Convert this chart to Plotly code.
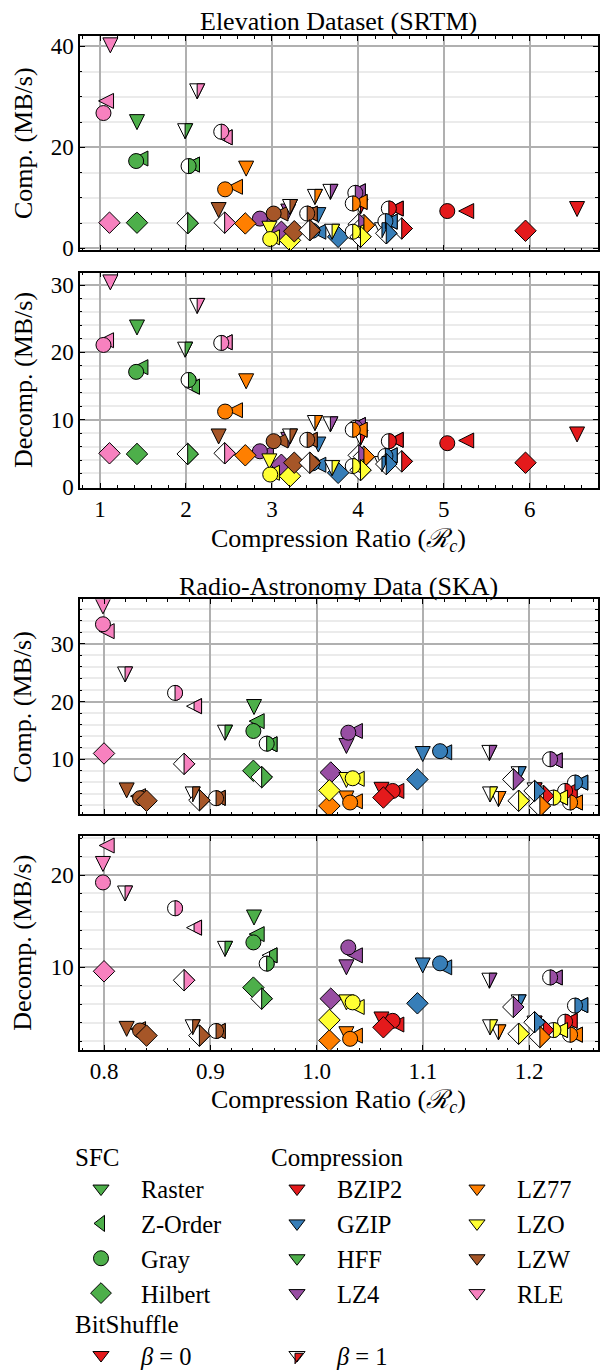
import plotly.graph_objects as go

# ---------------- categories ----------------
COMPRESSIONS = ["BZIP2", "GZIP", "HFF", "LZ4", "LZ77", "LZO", "LZW", "RLE"]
COLORS = ["#e41a1c", "#377eb8", "#4daf4a", "#984ea3", "#ff7f00", "#ffff33", "#a65628", "#f781bf"]
SFCS = ["Raster", "Z-Order", "Gray", "Hilbert"]

# Values: 8 rows (compression) x 4 columns (Raster, Z-Order, Gray, Hilbert)
# ---------------- Elevation dataset (SRTM) ----------------
srtm_ratio_b0 = [6.55, 5.26, 5.04, 5.95,
                 3.54, 3.54, 3.47, 3.77,
                 1.43, 1.47, 1.42, 1.43,
                 3.19, 2.93, 2.86, 3.11,
                 2.70, 2.57, 2.455, 2.69,
                 2.97, 3.00, 2.98, 3.21,
                 2.38, 3.10, 3.02, 3.26,
                 1.12, 1.07, 1.04, 1.11]
srtm_comp_b0 = [7.8, 7.4, 7.4, 3.5,
                6.6, 3.3, 3.5, 2.3,
                25.0, 17.8, 17.3, 5.1,
                7.3, 5.5, 5.9, 3.3,
                15.8, 12.2, 11.7, 4.95,
                3.9, 2.2, 1.86, 1.6,
                7.6, 6.9, 6.9, 3.4,
                40.2, 29.2, 26.8, 5.1]
srtm_decomp_b0 = [7.8, 6.9, 6.5, 3.6,
                  6.3, 3.3, 3.5, 2.1,
                  23.7, 17.8, 17.1, 4.9,
                  7.0, 5.0, 5.3, 3.3,
                  15.7, 11.4, 11.2, 4.7,
                  3.8, 2.1, 1.84, 1.6,
                  7.5, 6.9, 6.8, 3.6,
                  30.4, 21.8, 21.1, 5.0]
srtm_ratio_b1 = [4.03, 4.44, 4.36, 4.51,
                 4.28, 4.37, 4.32, 4.33,
                 1.99, 2.07, 2.03, 2.02,
                 3.68, 4.00, 3.97, 4.01,
                 3.50, 4.02, 3.94, 4.07,
                 3.70, 3.98, 3.94, 4.03,
                 3.21, 3.44, 3.41, 3.44,
                 2.13, 2.45, 2.41, 2.45]
srtm_comp_b1 = [8.3, 7.9, 7.9, 3.95,
                3.6, 5.3, 5.4, 3.0,
                23.2, 16.6, 16.3, 5.0,
                11.2, 11.3, 11.0, 4.8,
                10.2, 9.2, 8.9, 4.6,
                3.3, 3.2, 3.3, 2.3,
                8.2, 6.9, 6.9, 3.6,
                31.1, 22.0, 23.1, 5.1]
srtm_decomp_b1 = [7.3, 7.0, 6.8, 3.8,
                  3.4, 4.7, 4.6, 3.4,
                  20.4, 14.9, 15.9, 4.9,
                  9.3, 9.2, 8.8, 4.7,
                  9.5, 8.5, 8.5, 4.5,
                  2.8, 3.0, 3.1, 2.5,
                  7.5, 7.0, 7.0, 3.6,
                  26.9, 21.5, 21.4, 5.0]

# ---------------- Radio-astronomy data (SKA) ----------------
ska_ratio_b0 = [1.061, 1.075, 1.0715, 1.0628,
                1.0998, 1.120, 1.1161, 1.0948,
                0.9411, 0.9436, 0.9405, 0.9405,
                1.028, 1.036, 1.0298, 1.0133,
                1.028, 1.036, 1.0315, 1.012,
                1.028, 1.0377, 1.0339, 1.012,
                0.8213, 0.832, 0.8339, 0.840,
                0.799, 0.8025, 0.799, 0.800]
ska_comp_b0 = [4.7, 4.5, 4.5, 3.36,
               10.9, 11.2, 11.4, 6.5,
               19.05, 16.6, 14.9, 8.0,
               12.3, 14.9, 14.6, 7.7,
               3.2, 2.7, 2.5, 1.9,
               6.4, 6.6, 6.7, 4.6,
               4.6, 3.6, 3.25, 2.8,
               36.5, 32.2, 33.4, 11.0]
ska_decomp_b0 = [4.35, 3.8, 4.2, 3.5,
                 10.2, 10.0, 10.43, 6.1,
                 15.4, 13.6, 12.7, 7.8,
                 10.0, 11.3, 12.16, 6.6,
                 2.75, 2.6, 2.25, 2.07,
                 6.2, 5.7, 6.2, 4.3,
                 3.33, 3.3, 3.15, 2.6,
                 21.2, 23.2, 19.2, 9.57]
ska_ratio_b1 = [1.205, 1.238, 1.2337, 1.2133,
                1.190, 1.248, 1.243, 1.205,
                0.9138, 0.9557, 0.953, 0.9483,
                1.1625, 1.224, 1.2196, 1.185,
                1.171, 1.243, 1.2384, 1.210,
                1.1631, 1.229, 1.2227, 1.190,
                0.8834, 0.907, 0.9054, 0.8897,
                0.8198, 0.8847, 0.8668, 0.8753]
ska_comp_b1 = [4.6, 4.5, 4.5, 3.65,
               7.4, 5.95, 5.95, 4.5,
               14.6, 12.6, 12.7, 6.9,
               11.1, 9.8, 10.0, 6.5,
               3.1, 2.5, 2.5, 1.9,
               3.9, 3.35, 3.35, 2.8,
               3.9, 3.3, 3.25, 2.9,
               24.7, 19.2, 21.5, 9.2]
ska_decomp_b1 = [3.9, 4.2, 4.1, 3.2,
                 6.2, 5.9, 5.85, 4.05,
                 12.0, 11.3, 10.4, 6.6,
                 8.55, 8.9, 8.9, 5.7,
                 2.95, 2.7, 2.7, 2.45,
                 3.5, 3.2, 3.2, 2.8,
                 3.5, 3.1, 3.1, 2.6,
                 18.0, 14.3, 16.4, 8.6]

# ---------------- styling ----------------
FONT = "Liberation Serif"
REF_H = 1370          # layout is designed on a 600 x 1370 grid
VS = 1.0088           # vertical stretch to compensate the page capture
W, H = 600, round(REF_H * VS)
TXT = 26
TICKFS = 23

SYM = ["arrow-down", "arrow-down", "circle", "diamond"]
ANG = [0, 90, 0, 0]
SIZE = [15, 15, 15, 16.5]
STANDOFF = [7.5, 7.5, 0, 0]
LEG_SYM = ["triangle-down", "triangle-left", "circle", "diamond"]
LEG_SIZE = [14, 14, 15, 16]


def half_path(si):
    """Right half of the marker of SFC index si, in pixels (y up)."""
    h = SIZE[si] / 2.0
    if si == 0:
        return f"M0,{h} L{h},{h} L0,{-h} Z"
    if si == 1:
        return f"M0,{h/2} L{h},{h} L{h},{-h} L0,{-h/2} Z"
    if si == 2:
        k = 0.5523 * h
        return (f"M0,{h} C{k:.3f},{h} {h},{k:.3f} {h},0 "
                f"C{h},{-k:.3f} {k:.3f},{-h} 0,{-h} Z")
    d = 0.65 * SIZE[si]
    return f"M0,{d:.3f} L{d:.3f},0 L0,{-d:.3f} Z"


def legend_half_tri(s):
    r = s / 2.0
    rt = r * 2 / 3 ** 0.5
    return f"M0,{r/2:.3f} L{rt:.3f},{r/2:.3f} L0,{-r:.3f} Z"


def fy(p):
    """reference pixel row -> figure pixel row"""
    return p * VS


def py(p):
    """reference pixel row -> paper fraction"""
    return 1 - fy(p) / H


fig = go.Figure()
shapes = []

panels = [
    (1, srtm_ratio_b0, srtm_comp_b0, srtm_ratio_b1, srtm_comp_b1),
    (2, srtm_ratio_b0, srtm_decomp_b0, srtm_ratio_b1, srtm_decomp_b1),
    (3, ska_ratio_b0, ska_comp_b0, ska_ratio_b1, ska_comp_b1),
    (4, ska_ratio_b0, ska_decomp_b0, ska_ratio_b1, ska_decomp_b1),
]

for n, xr0, yv0, xr1, yv1 in panels:
    xa = "x" if n == 1 else f"x{n}"
    ya = "y" if n == 1 else f"y{n}"
    for beta, xs_all, ys_all in ((0, xr0, yv0), (1, xr1, yv1)):
        for ci, comp in enumerate(COMPRESSIONS):
            xs = xs_all[ci * 4:(ci + 1) * 4]
            ys = ys_all[ci * 4:(ci + 1) * 4]
            fig.add_trace(go.Scatter(
                x=xs, y=ys, mode="markers", xaxis=xa, yaxis=ya,
                showlegend=False, hoverinfo="skip",
                marker=dict(symbol=SYM, angle=ANG, standoff=STANDOFF, size=SIZE,
                            color=COLORS[ci] if beta == 0 else "white",
                            line=dict(color="black", width=1), opacity=1),
            ))
            if beta == 1:
                for si in range(4):
                    shapes.append(dict(
                        type="path", xref=xa, yref=ya,
                        xsizemode="pixel", ysizemode="pixel",
                        xanchor=xs[si], yanchor=ys[si], path=half_path(si),
                        fillcolor=COLORS[ci], line=dict(color="black", width=1),
                        layer="above"))

# ---------------- legends ----------------
LEGFS = 24.5
ITEMW = 70
ITEM_H = 1.3 * LEGFS + 3
ROW = 33.7 * VS
GAP = max(ROW - ITEM_H, 0)


def leg(sym_cx, row1_cy):
    left = sym_cx - ((ITEMW + 10) / 2.0 - 2)
    top = fy(row1_cy) - 2 - 5 - ITEM_H / 2.0
    return dict(x=left / W, y=1 - top / H, xanchor="left", yanchor="top",
                bgcolor="rgba(0,0,0,0)", borderwidth=0, itemwidth=ITEMW,
                font=dict(family=FONT, size=LEGFS, color="black"),
                tracegroupgap=GAP, orientation="v")


for si, name in enumerate(SFCS):
    fig.add_trace(go.Scatter(
        x=[None], y=[None], mode="markers", name=name, legend="legend",
        legendgroup=f"sfc{si}",
        marker=dict(symbol=LEG_SYM[si], size=LEG_SIZE[si], color=COLORS[2],
                    line=dict(color="black", width=1))))

for ci, name in enumerate(COMPRESSIONS):
    fig.add_trace(go.Scatter(
        x=[None], y=[None], mode="markers", name=name,
        legend="legend2" if ci < 4 else "legend3", legendgroup=f"c{ci}",
        marker=dict(symbol="triangle-down", size=14, color=COLORS[ci],
                    line=dict(color="black", width=1))))

fig.add_trace(go.Scatter(
    x=[None], y=[None], mode="markers", name="<i>β</i> = 0", legend="legend4",
    marker=dict(symbol="triangle-down", size=14, color=COLORS[0],
                line=dict(color="black", width=1))))
fig.add_trace(go.Scatter(
    x=[None], y=[None], mode="markers", name="<i>β</i> = 1", legend="legend5",
    marker=dict(symbol="triangle-down", size=14, color="rgba(0,0,0,0)",
                line=dict(color="black", width=1))))
BETA_ROW = 1356.7
shapes.append(dict(type="path", xref="paper", yref="paper", xsizemode="pixel",
                   ysizemode="pixel", xanchor=295 / W, yanchor=py(BETA_ROW),
                   path=legend_half_tri(14), fillcolor=COLORS[0],
                   line=dict(color="black", width=1), layer="above"))

# ---------------- axes ----------------
XDOM = [80 / W, 597.7 / W]
YDOMS = {1: [py(248.3), py(34.3)], 2: [py(486.3), py(271)],
         3: [py(813.3), py(598.3)], 4: [py(1049.3), py(835)]}
XR = {1: [0.767, 6.79], 2: [0.767, 6.79], 3: [0.7774, 1.2644], 4: [0.7774, 1.2644]}
YR = {1: [-0.3, 42.0], 2: [-0.1, 31.85], 3: [0.48, 37.7], 4: [1.06, 24.25]}
XD = {1: (1, 0.2), 2: (1, 0.2), 3: (0.1, 0.02), 4: (0.1, 0.02)}
YD = {1: (20, 5), 2: (10, 2), 3: (10, 2), 4: (10, 2)}

common = dict(showline=True, linecolor="black", linewidth=1.5, mirror="allticks",
              ticks="inside", ticklen=5, tickwidth=1.1, tickcolor="black",
              showgrid=True, gridcolor="#b0b0b0", gridwidth=1.5, zeroline=False,
              tickfont=dict(family=FONT, size=TICKFS, color="black"))

layout_axes = {}
for n in range(1, 5):
    xk = "xaxis" if n == 1 else f"xaxis{n}"
    yk = "yaxis" if n == 1 else f"yaxis{n}"
    layout_axes[xk] = dict(
        common, domain=XDOM, range=XR[n], dtick=XD[n][0], tick0=0,
        anchor="y" if n == 1 else f"y{n}",
        showticklabels=(n in (2, 4)), tickformat=".1f" if n == 4 else None,
        ticklabelstandoff=0,
        minor=dict(dtick=XD[n][1], ticks="inside", ticklen=2.5, tickwidth=0.9,
                   tickcolor="black", showgrid=False))
    layout_axes[yk] = dict(
        common, domain=YDOMS[n], range=YR[n], dtick=YD[n][0], tick0=0,
        anchor="x" if n == 1 else f"x{n}", ticklabelstandoff=0,
        minor=dict(dtick=YD[n][1], ticks="inside", ticklen=2.5, tickwidth=0.9,
                   tickcolor="black", showgrid=True, gridcolor="#ebebeb", gridwidth=1.5))

# ---------------- annotations ----------------
annotations = []


def ann(text, xpx, ypx, angle=0, xanchor="center", size=TXT):
    annotations.append(dict(text=text, x=xpx / W, y=py(ypx), xref="paper", yref="paper",
                            showarrow=False, textangle=angle, xanchor=xanchor,
                            yanchor="middle", font=dict(family=FONT, size=size, color="black")))


CX = (80 + 597.7) / 2
ann("Elevation Dataset (SRTM)", CX, 20)
ann("Radio-Astronomy Data (SKA)", CX, 585)
ann("Compression Ratio (<i>ℛ</i><sub><i>c</i></sub>)", CX, 539)
ann("Compression Ratio (<i>ℛ</i><sub><i>c</i></sub>)", CX, 1101)
ann("Comp. (MB/s)", 23, (34.3 + 248.3) / 2, angle=-90)
ann("Decomp. (MB/s)", 23, (271 + 486.3) / 2, angle=-90)
ann("Comp. (MB/s)", 23, (598.3 + 813.3) / 2, angle=-90)
ann("Decomp. (MB/s)", 23, (835 + 1049.3) / 2, angle=-90)
ann("SFC", 73, 1157, xanchor="left", size=25)
ann("Compression", 269, 1157, xanchor="left", size=25)
ann("BitShuffle", 73, 1324, xanchor="left", size=25)

fig.update_layout(
    width=W, height=H, margin=dict(l=0, r=0, t=0, b=0),
    paper_bgcolor="white", plot_bgcolor="white",
    font=dict(family=FONT, size=TXT, color="black"),
    showlegend=True,
    legend=leg(99, 1190), legend2=leg(295, 1190), legend3=leg(475, 1190),
    legend4=leg(99, BETA_ROW), legend5=leg(295, BETA_ROW),
    shapes=shapes, annotations=annotations,
    **layout_axes,
)

PAGE_CSS = (
    "var de=document.documentElement, b=document.body;"
    "[de,b].forEach(function(e){e.style.margin='0';e.style.padding='0';"
    "e.style.overflow='hidden';});"
)

fig.write_html("out.html", config={"displayModeBar": False}, post_script=PAGE_CSS)
